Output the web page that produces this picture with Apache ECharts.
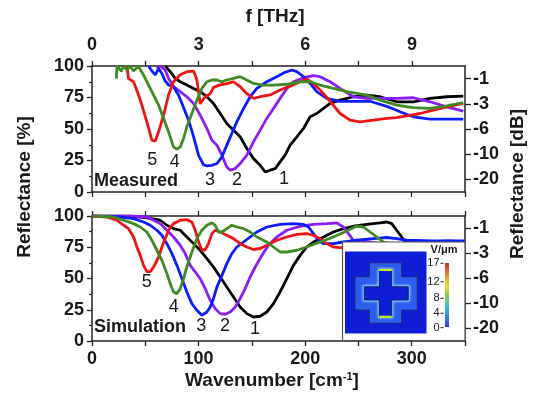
<!DOCTYPE html>
<html><head><meta charset="utf-8">
<script src="https://cdn.jsdelivr.net/npm/echarts@6/dist/echarts.min.js"></script>
<style>html,body{margin:0;padding:0;background:#fff}#c{width:533px;height:403px}</style>
</head><body><div id="c"></div>
<script>
// ---- data (wavenumber cm^-1, reflectance %) ----
const wavenumberLabels = [0, 100, 200, 300];
const thzLabels = [0, 3, 6, 9];
const dbTickPositions = [10, 30, 50, 70, 90];
const dbTickLabels = ['-20', '-10', '-6', '-3', '-1'];
const colorbarLabels = ['17', '12', '8', '4', '0'];
const curveNames = ['1', '2', '3', '4', '5'];
const curveColors = ['#000000', '#8a1cf5', '#0a1cff', '#3f8a22', '#ec1414'];

const measured1 = [[68.7,100],[73.4,95.5],[78.1,90.2],[82.8,87.5],[89,84.9],[95.3,82.2],[101.5,79.6],[107.8,75.6],[114,70.3],[120.3,62.3],[126.5,54.4],[132.8,49.1],[139,43.8],[145.3,34.5],[151.5,26.5],[157.8,21.2],[162.5,15.9],[167.2,17.3],[171.9,18.6],[176.5,23.9],[181.2,29.2],[185.9,37.2],[192.2,43.8],[198.4,50.4],[204.7,59.7],[210.9,62.3],[217.2,66.3],[223.4,70.3],[232.8,72.9],[245.3,75.6],[257.8,76.9],[270.3,75.6],[285.9,71.6],[301.5,71.6],[317.2,74.3],[332.8,75.6],[348.4,76.1]];
const measured2 = [[60.9,98],[64,100],[68.7,96.8],[71.8,90.2],[76.5,83.6],[82.8,79.6],[89,75.6],[95.3,70.3],[101.5,61],[107.8,50.4],[112.5,41.1],[117.2,37.2],[121.9,29.2],[126.5,19.9],[129.7,17.3],[134.4,18.6],[139,22.6],[145.3,29.2],[151.5,39.8],[157.8,49.1],[164,58.4],[170.3,66.3],[176.5,74.3],[182.8,82.2],[189,87.5],[198.4,90.7],[207.8,92.3],[214,91.5],[223.4,87.5],[232.8,82.2],[245.3,75.6],[257.8,74.3],[270.3,74.3],[285.9,74.3],[301.5,74.8],[317.2,71.6],[332.8,67.6],[348.4,64.2]];
const measured3 = [[53.1,100],[56.2,96],[59.3,93],[62.5,98],[65.6,94],[68.7,88],[71.8,84.9],[76.5,83.5],[81.2,77],[85.9,67],[90.6,57],[95.3,44],[100,29],[104.7,21.5],[108,20.7],[112.5,21.2],[117.2,22.6],[121.9,27.9],[126.5,37.2],[131.2,46.4],[135.9,55.7],[142.2,66.3],[148.4,75.6],[154.7,82.2],[164,87.5],[173.4,91.5],[181.2,95],[187.5,96.8],[192.2,95.5],[198.4,91.5],[204.7,86.2],[210.9,79.6],[220.3,74.3],[232.8,72],[245.3,72],[260.9,72],[276.6,68],[289.1,63.7],[301.5,59.7],[317.2,57.8],[332.8,57.8],[348.4,57.8]];
const measured4 = [[22.8,90],[23.5,100],[25,100],[27.5,96],[29.7,100],[32.8,97],[35.9,100],[39,96],[43.7,100],[45.3,97],[48.4,92.8],[51.5,87.5],[56.2,79.6],[62.5,69],[67.2,58.4],[71.8,47.8],[76.5,35.8],[79.7,34],[82.8,35.8],[85.9,42.5],[89,51.7],[93.7,62.3],[98.4,72.9],[103.1,82.2],[107.8,87.5],[112.5,88.9],[117.2,88.9],[121.9,87.5],[126.5,88.9],[132.8,90.2],[139,91.5],[145.3,88.9],[151.5,86.2],[160.9,84.9],[170.3,84.9],[182.8,85.5],[195.3,87.5],[204.7,87.5],[214,84.9],[226.5,82.2],[239,79.6],[257.8,76.9],[270.3,72.9],[285.9,69],[301.5,66.9],[317.2,66.3],[332.8,68.3],[348.4,71]];
const measured5 = [[32.8,100],[34.3,90],[39,87.5],[43.7,77],[46.8,69],[51.5,55.7],[56.2,41.1],[59.3,40.3],[62.5,47.8],[67.2,61],[71.8,77],[76.5,87.5],[82.8,93],[89,95.5],[95.3,96],[98.4,89],[101.5,70],[106.2,75.6],[110.9,78],[114,83],[120.3,85],[126.5,86],[132.8,87.5],[139,83.6],[145.3,78],[151.5,74.3],[157.8,75.6],[167.2,77],[176.5,81],[185.9,84],[195.3,87.5],[201.5,89.7],[207.8,86],[214,81],[223.4,72],[232.8,62.3],[242.2,57],[251.5,55.7],[264,57],[276.6,58.4],[285.9,59],[295.3,60.5],[307.8,62.3],[320.3,65],[332.8,67.6],[348.4,70.3]];

const simulation1 = [[0,100],[35.9,100],[51.5,98.5],[64,96.6],[70.3,92.6],[76.5,89.9],[82.8,88.6],[89,83.2],[95.3,77.9],[101.5,72.6],[107.8,65.9],[114,59.2],[120.3,51.2],[126.5,43.2],[132.8,35.2],[139,27.2],[145.3,21.9],[151.5,19.2],[157.8,19.8],[164,23.2],[170.3,29.9],[176.5,39.2],[182.8,49.9],[189,60.5],[195.3,68.5],[201.5,75.2],[207.8,79.2],[217.2,83.2],[226.5,87.2],[235.9,89.9],[245.3,91.8],[257.8,93.3],[270.3,94.5],[276.6,95.2],[281.2,93.9],[285.9,88.6],[290.6,83.2],[293.7,79.2],[310,77],[350,78]];
const simulation2 = [[0,100],[35.9,100],[51.5,99.2],[57.8,96.6],[64,93.9],[70.3,88.6],[76.5,83.2],[82.8,76.6],[87.5,69.9],[92.2,60.5],[96.9,55.2],[101.5,49.9],[106.2,41.9],[110.9,32.6],[115.6,25.9],[120.3,21.9],[125,21.4],[129.7,23.2],[134.4,27.2],[139,33.9],[143.7,41.9],[148.4,51.2],[153.1,59.2],[159.4,68.5],[165.6,76.6],[173.4,83.2],[182.8,88.6],[195.3,91.8],[207.8,93.3],[220.3,93.9],[229.7,94.5],[235.9,91.2],[240.6,85.9],[245.3,80.6],[270,78],[300,78],[320,79.5],[335,80],[350,79.5]];
const simulation3 = [[0,100],[26.5,99.2],[39,97.9],[48.4,95.2],[54.7,92.6],[60.9,88.6],[65.6,84.6],[70.3,77.9],[75,69.9],[79.7,60.5],[84.4,49.9],[89,39.2],[93.7,29.9],[98.4,24.6],[103.1,20.6],[107.8,23.2],[110.9,27.2],[114,33.9],[117.2,43.2],[121.9,52.5],[126.5,61.9],[131.2,69.9],[135.9,75.2],[142.2,79.2],[148.4,83.2],[154.7,87.2],[164,91.2],[176.5,93.3],[189,93.9],[198.4,93.3],[203.1,91.2],[207.8,85.9],[212.5,80.6],[217.2,77.9],[226.5,77.9],[235.9,79.2],[248.4,80.6],[264,81.9],[276.6,82.8],[285.9,81.9],[295.3,80.6],[320,80],[350,80]];
const simulation4 = [[0,100],[20.3,99.2],[29.7,96.6],[39,93.9],[45.3,91.2],[51.5,87.2],[56.2,80.6],[60.9,72.6],[65.6,64.6],[70.3,53.9],[73.4,45.9],[76.5,39.2],[79.7,37.9],[82.8,41.9],[85.9,49.9],[89,59.2],[93.7,71.2],[98.4,81.9],[103.1,88.6],[107.8,92.6],[112.5,94.5],[115.6,92.6],[118.7,87.2],[121.9,87.2],[126.5,89.9],[131.2,92.6],[135.9,91.2],[142.2,89.9],[148.4,87.2],[154.7,83.2],[164,79.2],[170.3,75.2],[176.5,71.2],[182.8,71.2],[192.2,72.6],[201.5,75.2],[214,79.2],[226.5,83.2],[239,88],[248.4,92],[254.7,91.2],[260.9,87.2],[267.2,83.2],[273.4,79.2],[290,76],[320,76],[350,77]];
const simulation5 = [[0,100],[14,99.2],[23.4,96.6],[29.7,92.6],[34.3,89.9],[39,83.2],[42.2,75.2],[45.3,68.5],[48.4,60.5],[51.5,55.5],[54.7,55.5],[57.8,59.2],[62.5,67.2],[65.6,75.2],[68.7,81.9],[71.8,88.6],[76.5,93.9],[82.8,96.6],[89,97.1],[93.7,95.2],[96.9,88.6],[100,79.2],[103.1,72.6],[106.2,73],[109.3,77.9],[112.5,85.9],[115.6,88.6],[120.3,87.2],[126.5,84.6],[132.8,81.9],[139,77.9],[145.3,75.2],[151.5,73.2],[157.8,74],[164,76.6],[173.4,80.6],[182.8,83.2],[192.2,85.3],[201.5,85.9],[207.8,84.6],[214,81.9],[220.3,77.9],[226.5,75.2],[232.8,74.7],[250,75],[280,76],[310,77],[350,78]];

const measuredSets = [measured1, measured2, measured3, measured4, measured5];
const simulationSets = [simulation1, simulation2, simulation3, simulation4, simulation5];
const drawOrder = [0, 1, 2, 4, 3];

// ---- chart ----
const FONT = '"Liberation Sans", Arial, sans-serif';
const TXT = '#1a1a1a';
const AX = {lineStyle: {color: '#222', width: 1.5}};
const tickStyle = {lineStyle: {color: '#222', width: 1.3}};
const lbl = {fontFamily: FONT, fontWeight: 'bold', fontSize: 18, color: TXT};
const WN_TO_THZ = 0.0299792;

function xWave(grid, pos, showLabels) {
  return {
    type: 'value', gridIndex: grid, position: pos, min: 0, max: 350, interval: 50,
    axisLine: Object.assign({show: true, onZero: false}, AX),
    axisTick: Object.assign({show: true, inside: false, length: 5}, tickStyle),
    axisLabel: Object.assign({show: showLabels, margin: 9,
      formatter: v => (wavenumberLabels.indexOf(v) >= 0 ? String(v) : '')}, lbl),
    splitLine: {show: false}
  };
}
function yLeft(grid) {
  return {
    type: 'value', gridIndex: grid, position: 'left', min: 0, max: 100, interval: 25,
    axisLine: Object.assign({show: true, onZero: false}, AX),
    axisTick: Object.assign({show: true, inside: false, length: 5}, tickStyle),
    minorTick: {show: true, splitNumber: 2, length: 3, lineStyle: {color: '#222', width: 1.2}},
    axisLabel: Object.assign({margin: 8}, lbl),
    splitLine: {show: false}
  };
}
function yRight(grid) {
  return {
    type: 'value', gridIndex: grid, position: 'right', min: 0, max: 100,
    axisLine: Object.assign({show: true, onZero: false}, AX),
    axisTick: Object.assign({show: true, inside: false, length: 6, customValues: dbTickPositions}, tickStyle),
    axisLabel: Object.assign({margin: 8, customValues: dbTickPositions,
      formatter: v => { const i = dbTickPositions.indexOf(Math.round(v)); return i >= 0 ? dbTickLabels[i] : ''; }}, lbl),
    splitLine: {show: false}
  };
}

const series = [];
drawOrder.forEach(i => {
  series.push({type: 'line', name: 'M' + curveNames[i], xAxisIndex: 0, yAxisIndex: 0, data: measuredSets[i],
    showSymbol: false, symbol: 'none', clip: true, lineStyle: {color: curveColors[i], width: 2.8}, z: 3});
});
drawOrder.forEach(i => {
  series.push({type: 'line', name: 'S' + curveNames[i], xAxisIndex: 2, yAxisIndex: 2, data: simulationSets[i],
    showSymbol: false, symbol: 'none', clip: true, lineStyle: {color: curveColors[i], width: 2.8}, z: 3});
});

function t(x, y, text, size, weight, align) {
  return {type: 'text', x: x, y: y, z: 50,
    style: {text: text, fill: TXT, font: (weight || 'normal') + ' ' + size + 'px ' + FONT,
      textAlign: align || 'center', textVerticalAlign: 'middle'}};
}

const outerPlus = [[369.3,262.7],[401.7,262.7],[401.7,276.7],[417.3,276.7],[417.3,310],[401.7,310],[401.7,323.3],[369.3,323.3],[369.3,310],[355,310],[355,276.7],[369.3,276.7]];
const innerCross = [[379.3,270],[391.7,270],[391.7,286.7],[408.3,286.7],[408.3,300],[391.7,300],[391.7,316.7],[379.3,316.7],[379.3,300],[364.3,300],[364.3,286.7],[379.3,286.7]];
const cbarLabelY = [263.3, 281.7, 298.3, 313.3, 327.7];

const graphic = [
  t(275, 17, 'f [THz]', 19, 'bold'),
  {type: 'text', x: 272, y: 381, z: 50,
    style: {text: '{a|Wavenumber [cm}{b|-1}{a|]}', textAlign: 'center', textVerticalAlign: 'middle',
      rich: {a: {font: 'bold 19px ' + FONT, fill: TXT}, b: {font: 'bold 11px ' + FONT, fill: TXT, verticalAlign: 'top', padding: [0, 0, 8, 0]}}}},
  Object.assign(t(25, 187, 'Reflectance [%]', 19, 'bold'), {rotation: Math.PI / 2}),
  Object.assign(t(518, 184, 'Reflectance [dB]', 19, 'bold'), {rotation: Math.PI / 2}),
  t(94, 181, 'Measured', 18, 'bold', 'left'),
  t(94, 327.5, 'Simulation', 18, 'bold', 'left'),
  t(152.3, 160.3, '5', 18), t(174.7, 161.7, '4', 18), t(210, 180, '3', 18), t(237, 180, '2', 18), t(284, 179.5, '1', 18),
  t(146.7, 281.7, '5', 18), t(173.7, 306.7, '4', 18), t(201.3, 325.8, '3', 18), t(225, 325.8, '2', 18), t(255, 329, '1', 18),
  // inset (field map)
  {type: 'rect', z: 60, shape: {x: 342.5, y: 242, width: 122.5, height: 98.5}, style: {fill: '#fff', stroke: '#555', lineWidth: 1.2}},
  {type: 'rect', z: 61, shape: {x: 345, y: 251.5, width: 81.5, height: 82}, style: {fill: '#0d1ed6'}},
  {type: 'polygon', z: 62, shape: {points: outerPlus}, style: {fill: '#2c5cf0', stroke: '#1a2a80', lineWidth: 1}},
  {type: 'polygon', z: 63, shape: {points: innerCross}, style: {fill: '#0d1ed6', stroke: '#6fc8ff', lineWidth: 2.5, shadowBlur: 3, shadowColor: '#9ad8ff'}},
  {type: 'polygon', z: 64, shape: {points: innerCross}, style: {fill: '#0d1ed6', stroke: '#101040', lineWidth: 0.8}},
  {type: 'line', z: 65, shape: {x1: 379.3, y1: 270, x2: 391.7, y2: 270}, style: {stroke: '#c8ee10', lineWidth: 2}},
  {type: 'line', z: 65, shape: {x1: 379.3, y1: 316.7, x2: 391.7, y2: 316.7}, style: {stroke: '#c8ee10', lineWidth: 2}},
  {type: 'rect', z: 61, shape: {x: 445, y: 263, width: 4, height: 64},
    style: {fill: {type: 'linear', x: 0, y: 0, x2: 0, y2: 1, colorStops: [
      {offset: 0, color: '#d43020'}, {offset: 0.2, color: '#f08a30'}, {offset: 0.35, color: '#e8e020'},
      {offset: 0.5, color: '#8ad040'}, {offset: 0.68, color: '#30c8c8'}, {offset: 0.85, color: '#3a80f0'}, {offset: 1, color: '#3030f0'}]}}},
  Object.assign(t(444, 250, 'V/μm', 11, 'bold'), {z: 66})
];
colorbarLabels.forEach((s, i) => {
  graphic.push(Object.assign(t(439.5, cbarLabelY[i], s, 11, 'normal', 'right'), {z: 66}));
  graphic.push({type: 'line', z: 66, shape: {x1: 440.5, y1: cbarLabelY[i], x2: 443.5, y2: cbarLabelY[i]}, style: {stroke: TXT, lineWidth: 1}});
});

const chart = echarts.init(document.getElementById('c'), null, {renderer: 'canvas'});
chart.setOption({
  animation: false,
  backgroundColor: '#fff',
  grid: [
    {left: 92, top: 66, width: 373, height: 126, containLabel: false},
    {left: 92, top: 216, width: 373, height: 125, containLabel: false}
  ],
  xAxis: [
    xWave(0, 'bottom', false),
    {
      type: 'value', gridIndex: 0, position: 'top', min: 0, max: 350 * WN_TO_THZ, interval: 1.5,
      axisLine: Object.assign({show: true, onZero: false}, AX),
      axisTick: Object.assign({show: true, inside: false, length: 5}, tickStyle),
      axisLabel: Object.assign({margin: 12, showMaxLabel: false,
        formatter: v => { const r = Math.round(v); return (Math.abs(v - r) < 1e-6 && thzLabels.indexOf(r) >= 0) ? String(r) : ''; }}, lbl),
      splitLine: {show: false}
    },
    xWave(1, 'bottom', true),
    xWave(1, 'top', false)
  ],
  yAxis: [yLeft(0), yRight(0), yLeft(1), yRight(1)],
  series: series,
  graphic: graphic
});
</script>
</body></html>
